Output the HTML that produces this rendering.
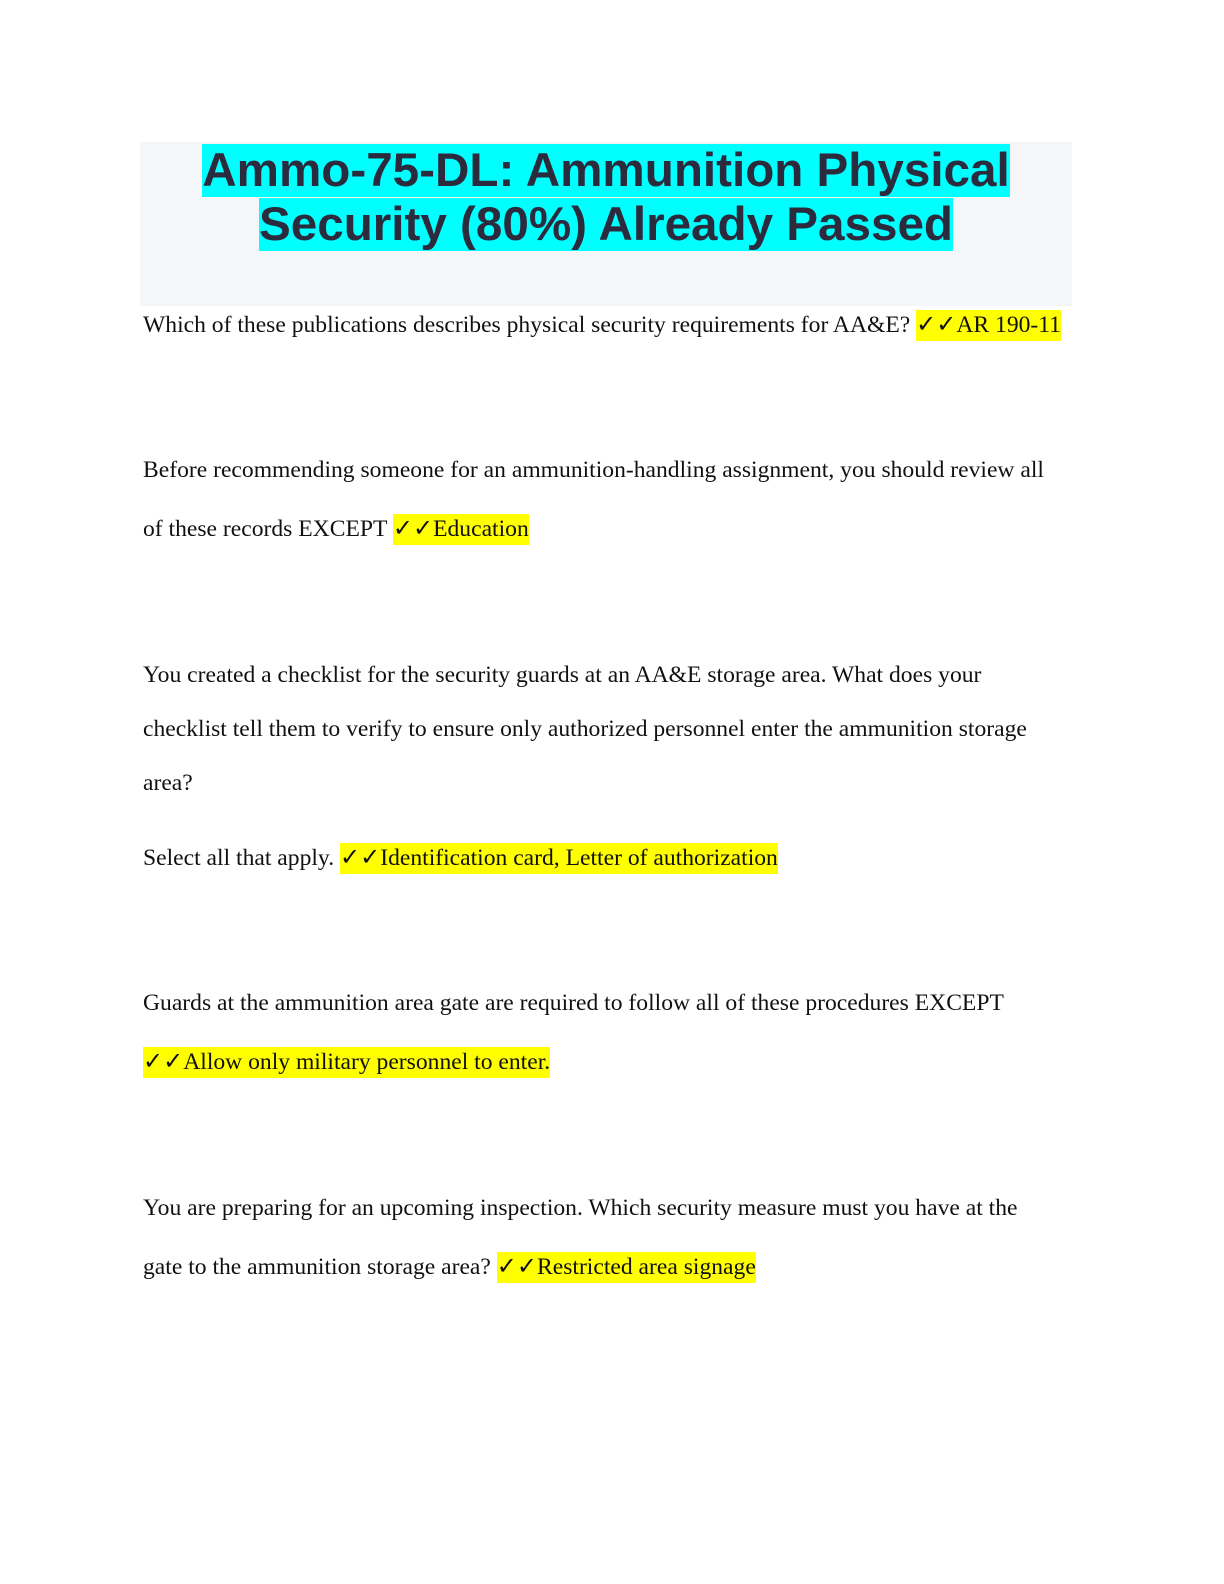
<!DOCTYPE html>
<html><head><meta charset="utf-8"><style>
body{margin:0;width:1224px;height:1584px;background:#fff;position:relative;font-family:"Liberation Serif",serif;color:#111;}
.tb{position:absolute;left:140px;top:142px;width:932px;height:164px;background:#f5f6fa;}
.t{position:absolute;left:140px;width:932px;text-align:center;font-family:"Liberation Sans",sans-serif;font-weight:bold;font-size:47.6px;color:#2b2b3d;line-height:54px;}
.t span{background:#00ffff;}
.l{position:absolute;left:143px;font-size:23.6px;line-height:30px;white-space:nowrap;}
.h{background:#ffff00;padding:2px 0 3px;}
.c{font-weight:bold;font-family:"DejaVu Sans",sans-serif;font-size:24px;}
</style></head><body>
<div class="tb"></div>
<div class="t" style="top:144px"><span>Ammo-75-DL: Ammunition Physical</span></div>
<div class="t" style="top:198px"><span>Security (80%) Already Passed</span></div>
<div class="l" style="top:309px">Which of these publications describes physical security requirements for AA&amp;E? <span class="h"><span class="c">✓✓</span>AR 190-11</span></div>
<div class="l" style="top:455px">Before recommending someone for an ammunition-handling assignment, you should review all</div>
<div class="l" style="top:513px">of these records EXCEPT <span class="h"><span class="c">✓✓</span>Education</span></div>
<div class="l" style="top:660px">You created a checklist for the security guards at an AA&amp;E storage area. What does your</div>
<div class="l" style="top:714px">checklist tell them to verify to ensure only authorized personnel enter the ammunition storage</div>
<div class="l" style="top:768px">area?</div>
<div class="l" style="top:842px">Select all that apply. <span class="h"><span class="c">✓✓</span>Identification card, Letter of authorization</span></div>
<div class="l" style="top:988px">Guards at the ammunition area gate are required to follow all of these procedures EXCEPT</div>
<div class="l" style="top:1046px"><span class="h"><span class="c">✓✓</span>Allow only military personnel to enter.</span></div>
<div class="l" style="top:1193px">You are preparing for an upcoming inspection. Which security measure must you have at the</div>
<div class="l" style="top:1251px">gate to the ammunition storage area? <span class="h"><span class="c">✓✓</span>Restricted area signage</span></div>
</body></html>
